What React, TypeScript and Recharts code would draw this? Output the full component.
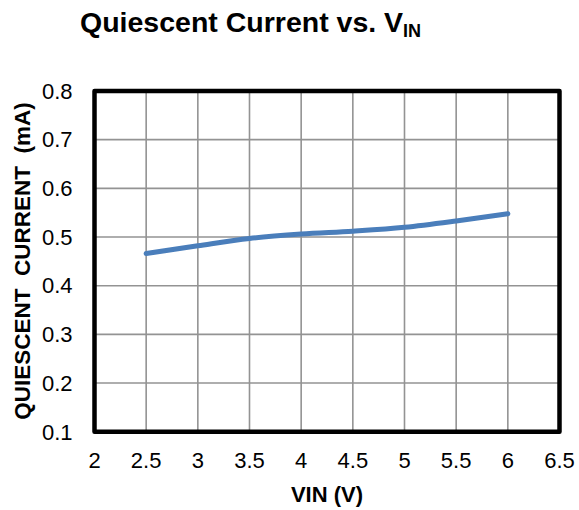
import React from "react";
import { LineChart, Line, XAxis, YAxis, CartesianGrid, ReferenceArea, Label } from "recharts";

const vin = [2.5, 3, 3.5, 4, 4.5, 5, 5.5, 6];
const iq = [0.466, 0.482, 0.497, 0.506, 0.512, 0.52, 0.533, 0.548];
const xTicks = [2, 2.5, 3, 3.5, 4, 4.5, 5, 5.5, 6, 6.5];
const yTicks = [0.1, 0.2, 0.3, 0.4, 0.5, 0.6, 0.7, 0.8];

const data = vin.map((v, i) => ({ vin: v, iq: iq[i] }));

const FONT = "'Liberation Sans', Arial, Helvetica, sans-serif";

export default function App() {
  return (
    <div style={{ position: "absolute", left: 0, top: 0, width: 579, height: 510, background: "#fff", fontFamily: FONT }}>
      <div
        style={{
          position: "absolute",
          left: 80,
          top: 8,
          fontSize: 28.5,
          lineHeight: "28.5px",
          fontWeight: "bold",
          whiteSpace: "nowrap",
          color: "#000",
        }}
      >
        Quiescent Current vs. V<span style={{ fontSize: 18, position: "relative", top: 5 }}>IN</span>
      </div>
      <LineChart width={579} height={510} data={data} margin={{ top: 91, right: 19.5, left: 0, bottom: 0 }}>
        <CartesianGrid stroke="#939393" strokeWidth={1.6} />
        <XAxis
          dataKey="vin"
          type="number"
          domain={[2, 6.5]}
          ticks={xTicks}
          interval={0}
          tickLine={false}
          axisLine={false}
          tickSize={0}
          tickMargin={21}
          height={78.3}
          tick={{ fill: "#000", fontSize: 22, fontFamily: FONT }}
          allowDataOverflow
        >
          <Label
            content={() => (
              <text x={327} y={502} textAnchor="middle" fontSize={22} fontWeight="bold" fontFamily={FONT} fill="#000">
                VIN (V)
              </text>
            )}
          />
        </XAxis>
        <YAxis
          type="number"
          domain={[0.1, 0.8]}
          ticks={yTicks}
          interval={0}
          tickLine={false}
          axisLine={false}
          tickSize={0}
          tickMargin={22}
          width={94.5}
          tick={{ fill: "#000", fontSize: 22, fontFamily: FONT }}
          allowDataOverflow
        >
          <Label
            content={() => (
              <text
                x={0}
                y={0}
                transform="translate(30, 261) rotate(-90)"
                textAnchor="middle"
                fontSize={22.5}
                fontWeight="bold"
                fontFamily={FONT}
                fill="#000"
                style={{ whiteSpace: "pre" }}
                xmlSpace="preserve"
              >
                {"QUIESCENT  CURRENT  (mA)"}
              </text>
            )}
          />
        </YAxis>
        <Line
          type="monotone"
          dataKey="iq"
          stroke="#4a7ebb"
          strokeWidth={5}
          strokeLinecap="round"
          dot={false}
          isAnimationActive={false}
        />
        <ReferenceArea
          x1={2}
          x2={6.5}
          y1={0.1}
          y2={0.8}
          fill="none"
          fillOpacity={0}
          stroke="#000"
          strokeWidth={4.5}
          strokeLinejoin="round"
          ifOverflow="visible"
        />
      </LineChart>
    </div>
  );
}
